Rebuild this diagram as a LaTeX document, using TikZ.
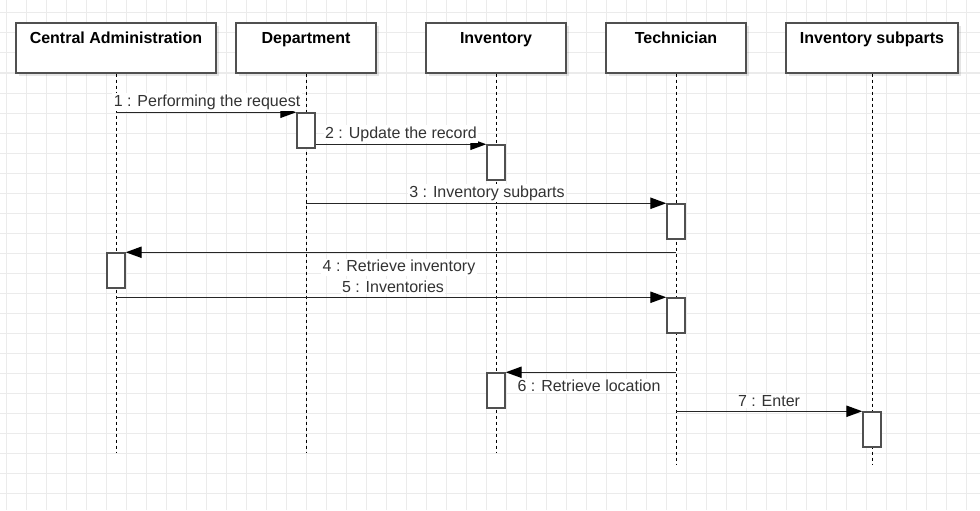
\documentclass[tikz,border=0pt]{standalone}
\usepackage{fontspec}
\setmainfont{Liberation Sans}
\usetikzlibrary{arrows.meta,shadows,calc}
\definecolor{gridc}{HTML}{EBEBEB}
\definecolor{ln}{HTML}{333333}
\definecolor{bx}{HTML}{505050}
\begin{document}
\begin{tikzpicture}[x=0.75pt,y=-0.75pt,
  hbox/.style={draw=bx, line width=1.1pt, fill=white, minimum width=#1, minimum height=37.5pt, inner sep=0pt,
    drop shadow={shadow xshift=2.5pt, shadow yshift=-2.5pt, fill=black, opacity=0.10}},
  htext/.style={font=\bfseries\fontsize{12}{14}\selectfont, text=black, anchor=base, inner sep=0pt},
  act/.style={draw=bx, line width=1.1pt, fill=white, minimum width=13.5pt, minimum height=26.25pt, inner sep=0pt},
  life/.style={draw=black, line width=0.75pt, dash pattern=on 2.25pt off 2.25pt},
  msg/.style={draw=black!85, line width=1pt, -{Triangle[length=12pt,width=8.5pt,fill=black,color=black]}},
  mlabel/.style={font=\fontsize{12}{14}\selectfont, text=ln, fill=white, anchor=base, inner sep=1pt}
]
\useasboundingbox (0,0) rectangle (980,510);
\fill[white] (0,0) rectangle (980,510);
% grid
\foreach \x in {6,26,...,966} \draw[gridc, line width=0.75pt] (\x,0) -- (\x,510);
\foreach \y in {13,33,...,493} \draw[gridc, line width=0.75pt] (0,\y) -- (980,\y);

% lifeline ends
\coordinate (caE) at (116,453);
\coordinate (depE) at (306,453);
\coordinate (invE) at (496,453);
\coordinate (tecE) at (676,465);
\coordinate (ispE) at (872,465);

% header boxes
\node[hbox=150pt] (ca) at (116,48) {};
\node[hbox=105pt] (dep) at (306,48) {};
\node[hbox=105pt] (inv) at (496,48) {};
\node[hbox=105pt] (tec) at (676,48) {};
\node[hbox=129pt] (isp) at (872,48) {};

% lifelines
\draw[life] (ca.south) -- (caE);
\draw[life] (dep.south) -- (depE);
\draw[life] (inv.south) -- (invE);
\draw[life] (tec.south) -- (tecE);
\draw[life] (isp.south) -- (ispE);

\node[htext] (caT) at (116,44) {Central Administration};
\node[htext] (depT) at (306,44) {Department};
\node[htext] (invT) at (496,44) {Inventory};
\node[htext] (tecT) at (676,44) {Technician};
\node[htext] (ispT) at (872,44) {Inventory subparts};

% activations
\node[act] (a1) at (306,130.5) {};
\node[act] (a2) at (496,162.5) {};
\node[act] (a3) at (676,221.5) {};
\node[act] (a4) at (116,270.5) {};
\node[act] (a5) at (676,315.5) {};
\node[act] (a6) at (496,390.5) {};
\node[act] (a7) at (872,429.5) {};

% message start points
\coordinate (m1) at (ca.south |- a1.north);
\coordinate (m2) at (a1.east |- a2.north);
\coordinate (m3) at (dep.south |- a3.north);
\coordinate (m4) at (tec.south |- a4.north);
\coordinate (m5) at (ca.south |- a5.north);
\coordinate (m6) at (tec.south |- a6.north);
\coordinate (m7) at (tec.south |- a7.north);

\draw[msg] (m1) -- (a1.north west);
\draw[msg] (m2) -- (a2.north west);
\draw[msg] (m3) -- (a3.north west);
\draw[msg] (m4) -- (a4.north east);
\draw[msg] (m5) -- (a5.north west);
\draw[msg] (m6) -- (a6.north east);
\draw[msg] (m7) -- (a7.north west);

% labels
\node[mlabel] (l1) at (207,106) {1 : Performing the request};
\node[mlabel] (l2) at (401,138.3) {2 : Update the record};
\node[mlabel] (l3) at (487,197) {3 : Inventory subparts};
\node[mlabel] (l4) at (399,271.7) {4 : Retrieve inventory};
\node[mlabel] (l5) at (393,292.3) {5 : Inventories};
\node[mlabel] (l6) at (589,391.7) {6 : Retrieve location};
\node[mlabel] (l7) at (769,406.7) {7 : Enter};
\end{tikzpicture}
\end{document}
